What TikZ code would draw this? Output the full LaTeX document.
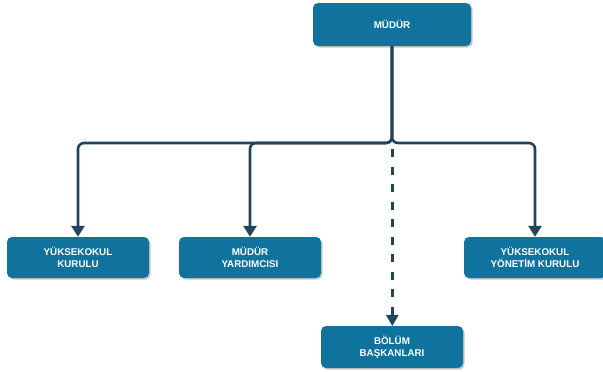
\documentclass[tikz,border=0pt]{standalone}
\usepackage{fontspec}
\setmainfont{Liberation Sans}
\usepackage{tikz}
\usetikzlibrary{arrows.meta, positioning, shadows}
\definecolor{unitblue}{HTML}{10739E}
\definecolor{linknavy}{HTML}{23445D}

\begin{document}
\begin{tikzpicture}[x=1pt, y=-1pt,
            unit/.style={fill=unitblue, rounded corners=5pt, text=white, align=center,
                         font=\fontsize{9.8}{12}\selectfont\bfseries, minimum height=41pt, minimum width=142pt,
                         drop shadow={shadow xshift=1.5pt, shadow yshift=-1.5pt, opacity=0.22, fill=black}},
            link/.style={draw=linknavy, line width=2.6pt, rounded corners=6pt,
                         -{Triangle[width=13pt, length=11pt]}},
            broken link/.style={draw=linknavy, line width=3.4pt,
                         dash pattern=on 8pt off 9.5pt,
                         -{Triangle[width=13pt, length=11pt, line width=0pt]}}]

            \useasboundingbox[fill=white] (0,0) rectangle (603,372);

            \node[unit, minimum width=158pt, minimum height=43pt] (mudur) at (392,24.5) {MÜDÜR};
            \node[unit] (kurul) at (78,257.5) {YÜKSEKOKUL\\KURULU};
            \node[unit] (yardimci) at (250,257.5) {MÜDÜR\\YARDIMCISI};
            \node[unit] (yonetim) at (535,257.5) {YÜKSEKOKUL\\YÖNETİM KURULU};
            \node[unit, minimum height=42pt] (bolum) at (392,347) {BÖLÜM\\BAŞKANLARI};

            % Reporting lines
            \coordinate (split) at (392,143);
            \foreach \n in {kurul, yardimci, yonetim} {
                \draw[link] (mudur.south) -- (split) -| (\n.north);
            }

            % Dashed line to the departments
            \coordinate (dash top) at (392.3,149);
            \draw[broken link] (dash top) -- (dash top |- bolum.north);
        \end{tikzpicture}
\end{document}
